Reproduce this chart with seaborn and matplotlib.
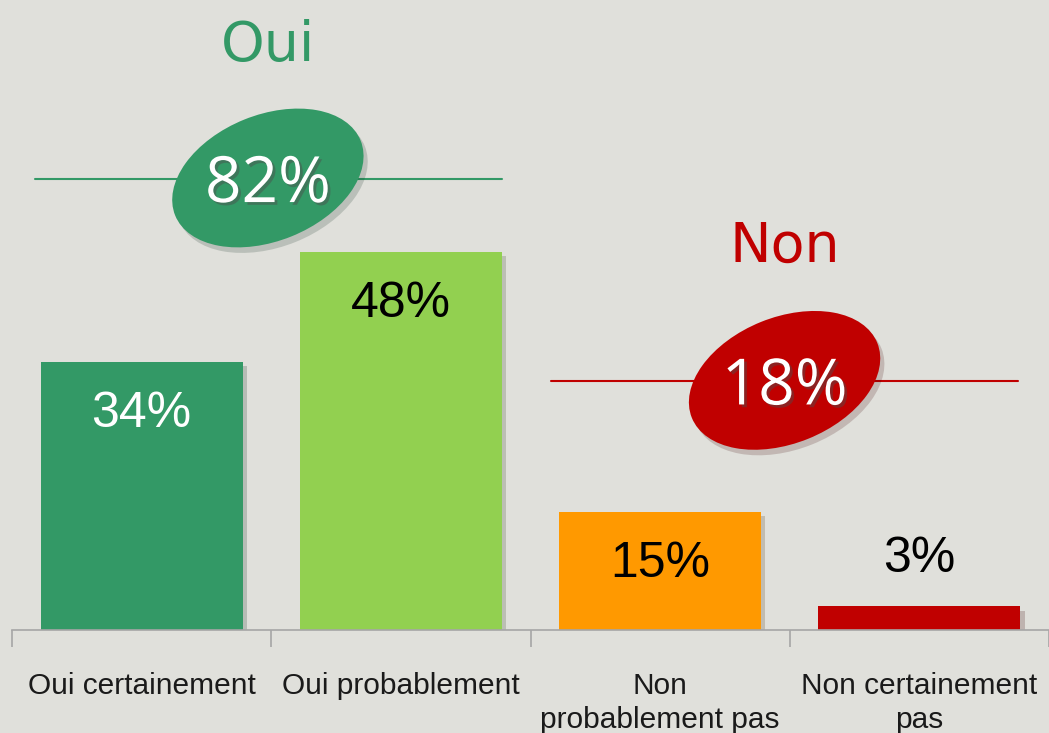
import matplotlib
matplotlib.use("Agg")
import matplotlib.pyplot as plt
import matplotlib.patheffects as pe
from matplotlib.patches import Ellipse
from matplotlib.transforms import ScaledTranslation
import seaborn as sns

# data
categories = ["Oui certainement", "Oui probablement", "Non\nprobablement pas", "Non certainement\npas"]
values = [34, 48, 15, 3]
bar_colors = ["#339966", "#92D050", "#FF9900", "#C00000"]
label_colors = ["white", "black", "black", "black"]
groups = ["Oui", "Non"]
group_totals = [82, 18]
group_colors = ["#339966", "#C00000"]

bg = "#E0E0DB"
sns.set_style("white")
plt.rcParams["font.family"] = ["Liberation Sans", "DejaVu Sans"]

fig = plt.figure(figsize=(10.49, 7.33), dpi=100, facecolor=bg)
ax = fig.add_axes([12 / 1049, 103 / 733, 1037 / 1049, 630 / 733])
ax.set_facecolor(bg)

sns.barplot(x=categories, y=values, hue=categories, palette=bar_colors,
            legend=False, width=0.78, saturation=1, linewidth=0, ax=ax)
for p in ax.patches:
    p.set_path_effects([pe.SimplePatchShadow(offset=(3, -3), alpha=0.2), pe.Normal()])

ax.set_xlim(-0.5, 3.5)
ax.set_ylim(0, 80)
ax.set_yticks([])
ax.set_ylabel("")
for s in ["top", "left", "right"]:
    ax.spines[s].set_visible(False)
ax.spines["bottom"].set_color("#A6A6A6")
ax.spines["bottom"].set_linewidth(1.2)
ax.set_xticks(range(len(categories)))
ax.set_xticklabels(categories, fontsize=21.5, color="#1a1a1a", linespacing=1.3)
ax.tick_params(axis="x", which="major", length=0, pad=30)
ax.set_xticks([-0.5, 0.5, 1.5, 2.5, 3.5], minor=True)
ax.tick_params(axis="x", which="minor", bottom=True, length=12, width=1.2,
               color="#A6A6A6", direction="out")

# value labels
for i, v in enumerate(values):
    y = v - 6.6 if v > 10 else v + 6.0
    ax.text(i, y, f"{v}%", ha="center", va="center", fontsize=36, color=label_colors[i])

# group lines, ellipses and headers
line_y = [57.3, 31.6]
line_x = [(-0.41, 1.39), (1.58, 3.38)]
ell_c = [(0.487, 57.4), (2.48, 31.7)]
head_y = [74.2, 48.7]
for k in range(2):
    c = group_colors[k]
    ax.plot(line_x[k], [line_y[k]] * 2, color=c, lw=1.5, zorder=3)
    tr = fig.dpi_scale_trans + ScaledTranslation(ell_c[k][0], ell_c[k][1], ax.transData)
    e = Ellipse((0, 0), 2.0, 1.26, angle=22, facecolor=c, edgecolor="none",
                transform=tr, zorder=4, clip_on=False)
    e.set_path_effects([pe.SimplePatchShadow(offset=(3, -4), alpha=0.18), pe.Normal()])
    ax.add_patch(e)
    ax.text(ell_c[k][0], ell_c[k][1] - 0.9, f"{group_totals[k]}%", ha="center", va="center",
            fontsize=46, color="white", family="Open Sans", zorder=5,
            path_effects=[pe.SimplePatchShadow(offset=(2, -2), alpha=0.45), pe.Normal()])
    ax.text(ell_c[k][0], head_y[k], groups[k], ha="center", va="center",
            fontsize=40, color=c, family="DejaVu Sans", zorder=5)

fig.savefig("out.png", dpi=100, facecolor=bg)
